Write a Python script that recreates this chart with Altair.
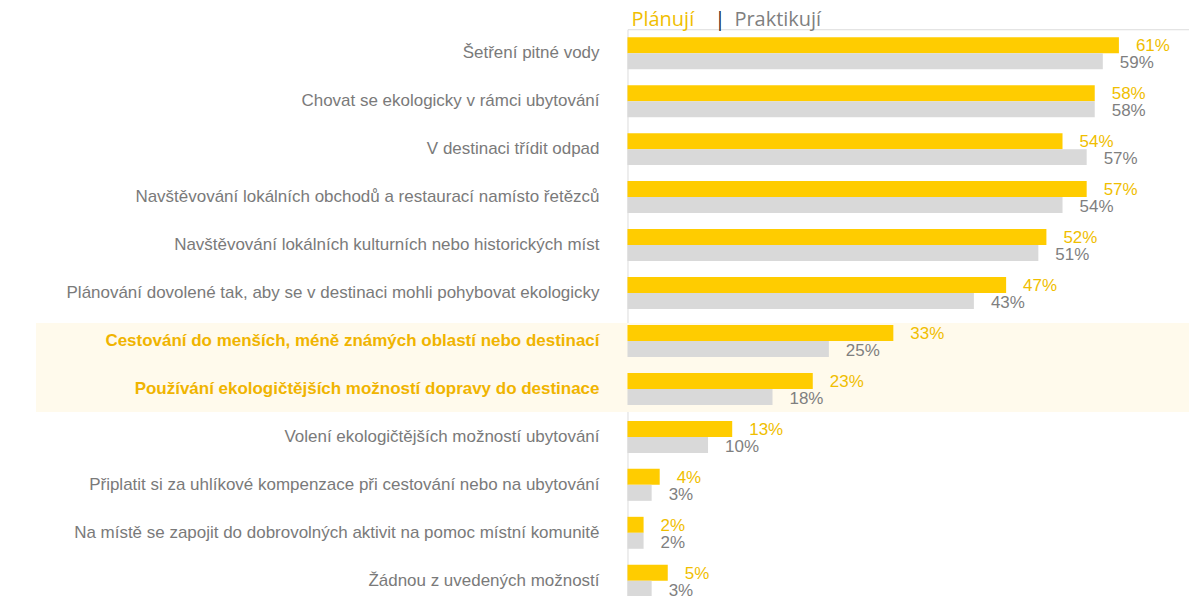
import altair as alt
import pandas as pd

categories = [
    "Šetření pitné vody",
    "Chovat se ekologicky v rámci ubytování",
    "V destinaci třídit odpad",
    "Navštěvování lokálních obchodů a restaurací namísto řetězců",
    "Navštěvování lokálních kulturních nebo historických míst",
    "Plánování dovolené tak, aby se v destinaci mohli pohybovat ekologicky",
    "Cestování do menších, méně známých oblastí nebo destinací",
    "Používání ekologičtějších možností dopravy do destinace",
    "Volení ekologičtějších možností ubytování",
    "Připlatit si za uhlíkové kompenzace při cestování nebo na ubytování",
    "Na místě se zapojit do dobrovolných aktivit na pomoc místní komunitě",
    "Žádnou z uvedených možností",
]
planuji = [61, 58, 54, 57, 52, 47, 33, 23, 13, 4, 2, 5]
praktikuji = [59, 58, 57, 54, 51, 43, 25, 18, 10, 3, 2, 3]
highlighted = [
    "Cestování do menších, méně známých oblastí nebo destinací",
    "Používání ekologičtějších možností dopravy do destinace",
]
series_names = ["Plánují", "Praktikují"]
legend_texts = ["Plánují", "|", "Praktikují"]

YELLOW = "#FFCC00"
GRAY = "#D9D9D9"
GOLD_TXT = "#F0BE00"
GRAY_TXT = "#7F7F7F"
LABEL_TXT = "#7A7A7A"
FONT = "Liberation Sans"

rows = []
for c, p, q in zip(categories, planuji, praktikuji):
    rows.append({"cat": c, "series": series_names[0], "value": p, "label": f"{p}%"})
    rows.append({"cat": c, "series": series_names[1], "value": q, "label": f"{q}%"})
df = pd.DataFrame(rows)

cat_df = pd.DataFrame({"cat": categories, "hl": [c in highlighted for c in categories]})
hl_df = pd.DataFrame({"top": [highlighted[0]], "bot": [highlighted[-1]]})

y_scale = alt.Scale(domain=categories, paddingInner=0.3333, paddingOuter=0.1667)
y_enc = alt.Y("cat:N", sort=categories, axis=None, scale=y_scale)
x_scale = alt.Scale(domain=[0, 69.7], nice=False, zero=True)
yoff = alt.YOffset("series:N", sort=series_names,
                   scale=alt.Scale(domain=series_names, paddingInner=0, paddingOuter=0))
color_scale = alt.Scale(domain=series_names, range=[YELLOW, GRAY])

highlight = alt.Chart(hl_df).mark_rect(color="#FFFAEC", yOffset=-2, y2Offset=7).encode(
    y=alt.Y("top:N", sort=categories, axis=None, scale=y_scale, bandPosition=0),
    y2=alt.Y2("bot:N", bandPosition=1),
    x=alt.value(-592),
    x2=alt.value(562),
)

bars = alt.Chart(df).mark_bar().encode(
    y=y_enc,
    yOffset=yoff,
    x=alt.X("value:Q", scale=x_scale, axis=None),
    color=alt.Color("series:N", scale=color_scale, legend=None),
)

vals_p = alt.Chart(df[df.series == series_names[0]]).mark_text(
    align="left", baseline="middle", dx=17, dy=1, font=FONT, fontSize=17, color=GOLD_TXT
).encode(
    y=y_enc, yOffset=yoff,
    x=alt.X("value:Q", scale=x_scale, axis=None),
    text="label:N",
)
vals_q = alt.Chart(df[df.series == series_names[1]]).mark_text(
    align="left", baseline="middle", dx=17, dy=2, font=FONT, fontSize=17, color=GRAY_TXT
).encode(
    y=y_enc, yOffset=yoff,
    x=alt.X("value:Q", scale=x_scale, axis=None),
    text="label:N",
)

cat_labels = alt.Chart(cat_df[~cat_df.hl]).mark_text(
    align="right", baseline="middle", font=FONT, fontSize=17, color=LABEL_TXT
).encode(
    y=y_enc,
    x=alt.value(-28),
    text="cat:N",
)
cat_labels_hl = alt.Chart(cat_df[cat_df.hl]).mark_text(
    align="right", baseline="middle", font=FONT, fontSize=17, color="#F0B400", fontWeight="bold"
).encode(
    y=y_enc,
    x=alt.value(-28),
    text="cat:N",
)

legend_df = pd.DataFrame({"t": legend_texts})
leg1 = alt.Chart(legend_df.iloc[[0]]).mark_text(
    align="left", baseline="middle", font="Open Sans", fontSize=20, color=GOLD_TXT
).encode(x=alt.value(4), y=alt.value(-9), text="t:N")
leg2 = alt.Chart(legend_df.iloc[[1]]).mark_text(
    align="left", baseline="middle", font="Open Sans", fontSize=20, color="#1A1A1A"
).encode(x=alt.value(87), y=alt.value(-9), text="t:N")
leg3 = alt.Chart(legend_df.iloc[[2]]).mark_text(
    align="left", baseline="middle", font="Open Sans", fontSize=20, color=GRAY_TXT
).encode(x=alt.value(107), y=alt.value(-9), text="t:N")

chart = alt.layer(highlight, bars, vals_p, vals_q, cat_labels, cat_labels_hl, leg1, leg2, leg3).properties(
    width=562,
    height=576,
    padding={"left": 620, "top": 21, "right": 0, "bottom": 0},
    autosize=alt.AutoSizeParams(type="none"),
).configure_view(stroke=None).configure(background="white")

chart.save("out.html", embed_options={"renderer": "svg", "actions": False})
